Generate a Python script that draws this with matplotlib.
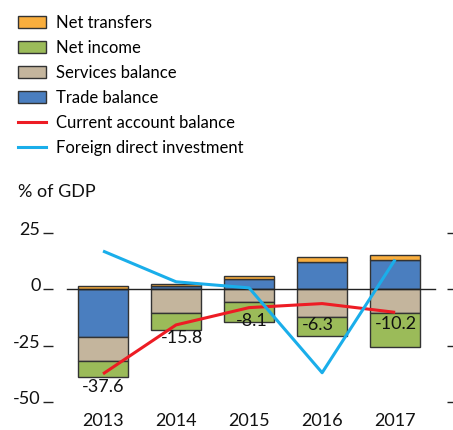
import matplotlib
matplotlib.use("Agg")
import matplotlib.pyplot as plt
from matplotlib.patches import Patch
from matplotlib.lines import Line2D
import matplotlib.transforms as mtransforms
import numpy as np

plt.rcParams['font.family'] = ['Lato', 'DejaVu Sans']

years = ["2013", "2014", "2015", "2016", "2017"]
trade_balance = [-21.0, 1.6, 4.6, 12.0, 13.3]
services_balance = [-10.7, -10.6, -5.8, -12.3, -10.7]
net_income = [-7.4, -7.6, -8.5, -8.4, -14.9]
net_transfers = [1.5, 0.8, 1.6, 2.4, 2.1]
current_account = [-37.6, -15.8, -8.1, -6.3, -10.2]
fdi = [17.1, 3.4, 0.7, -37.1, 13.3]
ca_labels = ["-37.6", "-15.8", "-8.1", "-6.3", "-10.2"]
yticks = [25, 0, -25, -50]

c_orange = "#F9AE3D"
c_green = "#9BBB59"
c_tan = "#C4B59D"
c_blue = "#4A7EBF"
c_red = "#ED1C24"
c_cyan = "#1AAEEA"
edge = "#333333"

W, H = 453, 430
fig = plt.figure(figsize=(W/100, H/100), dpi=100)
ax_l, ax_r = 53, 447
ax_t, ax_b = 233.3, 401.7
ax = fig.add_axes([ax_l/W, 1 - ax_b/H, (ax_r-ax_l)/W, (ax_b-ax_t)/H])
ax.set_xlim(-0.685, 4.71)
ax.set_ylim(-50, 25)

x = np.arange(len(years))
bw = 0.68

pos_base = np.zeros(len(years))
neg_base = np.zeros(len(years))
for vals, col in [(trade_balance, c_blue), (services_balance, c_tan),
                  (net_income, c_green), (net_transfers, c_orange)]:
    vals = np.array(vals)
    bottoms = np.where(vals >= 0, pos_base, neg_base)
    ax.bar(x, vals, bw, bottom=bottoms, color=col, edgecolor=edge,
           linewidth=1.0, zorder=2)
    pos_base = pos_base + np.where(vals >= 0, vals, 0)
    neg_base = neg_base + np.where(vals < 0, vals, 0)

ax.axhline(0, xmin=(66.7-ax_l)/(ax_r-ax_l), xmax=(435-ax_l)/(ax_r-ax_l),
           color="#222222", linewidth=1.0, zorder=3)

ax.plot(x, current_account, color=c_red, linewidth=2.2, zorder=4,
        solid_capstyle='butt', clip_on=False)
ax.plot(x, fdi, color=c_cyan, linewidth=2.2, zorder=4,
        solid_capstyle='butt', clip_on=False)

offsets = [(0, -13), (6, -13.5), (3, -13), (-4, -21.5), (1, -12)]
for xi, v, lab, off in zip(x, current_account, ca_labels, offsets):
    ax.annotate(lab, (xi, v), xytext=off, textcoords='offset pixels',
                ha='center', va='center', fontsize=13, color='#111111',
                zorder=5)

for s in ax.spines.values():
    s.set_visible(False)
ax.set_xticks(x)
ax.set_xticklabels(years)
ax.tick_params(axis='x', length=0, pad=8, labelsize=13, labelcolor='#111111')
ax.set_yticks(yticks)
ax.set_yticklabels([str(t) for t in yticks])
ax.tick_params(axis='y', which='both', direction='out', length=7, width=1,
               color='#222222', labelsize=13, labelcolor='#111111', pad=2,
               left=True, right=True, labelleft=True, labelright=False)
shift = mtransforms.ScaledTranslation(0, 3/100, fig.dpi_scale_trans)
for lab in ax.get_yticklabels():
    lab.set_va('center')
    lab.set_transform(lab.get_transform() + shift)
for t in ax.yaxis.get_major_ticks():
    t.tick2line.set_color('#555555')

handles = [Patch(facecolor=c_orange, edgecolor=edge, linewidth=1.0, label="Net transfers"),
           Patch(facecolor=c_green, edgecolor=edge, linewidth=1.0, label="Net income"),
           Patch(facecolor=c_tan, edgecolor=edge, linewidth=1.0, label="Services balance"),
           Patch(facecolor=c_blue, edgecolor=edge, linewidth=1.0, label="Trade balance"),
           Line2D([0], [0], color=c_red, linewidth=2.2, label="Current account balance"),
           Line2D([0], [0], color=c_cyan, linewidth=2.2, label="Foreign direct investment")]
fig.legend(handles=handles, loc='upper left', bbox_to_anchor=(18/W, 1 - 14.5/H),
           frameon=False, fontsize=12, handlelength=1.68, handleheight=0.72,
           handletextpad=0.6, labelspacing=0.55, borderaxespad=0, borderpad=0)

fig.text(18/W, 1 - 191.7/H, "% of GDP", ha='left', va='center', fontsize=13,
         color='#111111')

fig.savefig("out.png", dpi=100)
